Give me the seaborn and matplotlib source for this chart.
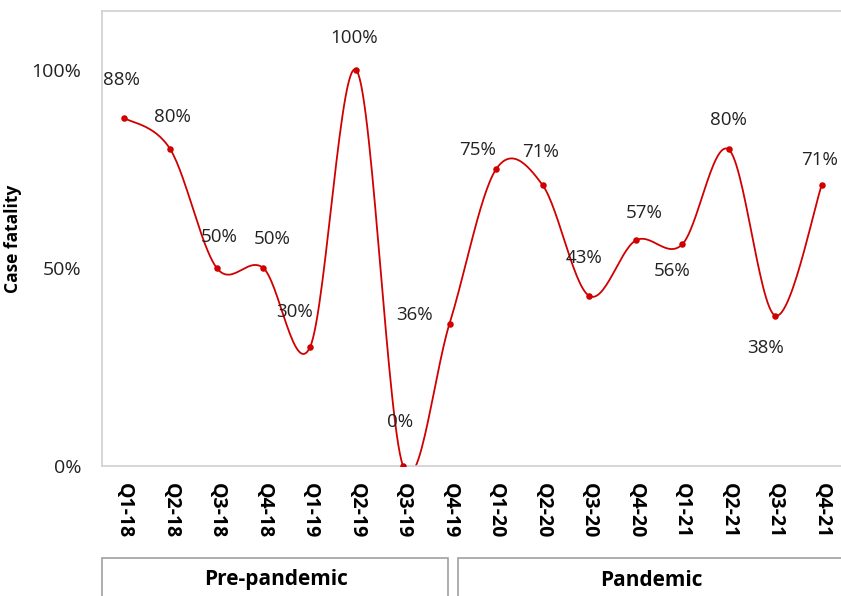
import numpy as np
import matplotlib
matplotlib.use("Agg")
import matplotlib.pyplot as plt
from matplotlib.patches import Rectangle
from matplotlib.ticker import PercentFormatter
import seaborn as sns

# ------------------------------------------------------------------
# DATA
# ------------------------------------------------------------------
quarters = ["Q1-18", "Q2-18", "Q3-18", "Q4-18", "Q1-19", "Q2-19", "Q3-19", "Q4-19",
            "Q1-20", "Q2-20", "Q3-20", "Q4-20", "Q1-21", "Q2-21", "Q3-21", "Q4-21"]
fatality = [0.88, 0.80, 0.50, 0.50, 0.30, 1.00, 0.00, 0.36,
            0.75, 0.71, 0.43, 0.57, 0.56, 0.80, 0.38, 0.71]
period_names = ["Pre-pandemic", "Pandemic"]
period_sizes = [7.5, 8.5]   # quarters covered by each bracket

# offsets of the data labels (pixels, from the marker)
label_offsets = [(-2, 38), (2, 32), (2, 31), (9, 29), (-15, 35), (-2, 32), (-3, 44), (-35, 9),
                 (-19, 19), (-2, 33), (-5, 38), (9, 27), (-10, -27), (0, 29), (-10, -32), (-2, 25)]

RED = "#D00000"
GREY = "#D0D0D0"


def smooth_curve(y, n=30):
    """Kurva halus gaya Excel (Catmull-Rom -> Bezier)."""
    y = np.asarray(y, dtype=float)
    x = np.arange(len(y), dtype=float)
    xs, ys = [], []
    for i in range(len(y) - 1):
        p0 = (x[max(i - 1, 0)], y[max(i - 1, 0)])
        p1 = (x[i], y[i])
        p2 = (x[i + 1], y[i + 1])
        p3 = (x[min(i + 2, len(y) - 1)], y[min(i + 2, len(y) - 1)])
        b1 = (p1[0] + (p2[0] - p0[0]) / 6, p1[1] + (p2[1] - p0[1]) / 6)
        b2 = (p2[0] - (p3[0] - p1[0]) / 6, p2[1] - (p3[1] - p1[1]) / 6)
        t = np.linspace(0, 1, n, endpoint=(i == len(y) - 2))
        for k in range(2):
            c = [p1[k], b1[k], b2[k], p2[k]]
            v = ((1 - t) ** 3 * c[0] + 3 * (1 - t) ** 2 * t * c[1]
                 + 3 * (1 - t) * t ** 2 * c[2] + t ** 3 * c[3])
            (xs if k == 0 else ys).append(v)
    return np.concatenate(xs), np.concatenate(ys)


sns.set_theme(style="white")
plt.rcParams["font.family"] = ["Open Sans", "DejaVu Sans"]
plt.rcParams["text.color"] = "black"
plt.rcParams["axes.labelcolor"] = "black"

fig = plt.figure(figsize=(8.41, 5.96), dpi=100)
ax = fig.add_axes([102 / 841, 130 / 596, 743 / 841, 455 / 596])

xpos = np.arange(len(quarters))
sx, sy = smooth_curve(fatality)
sns.lineplot(x=sx, y=sy, sort=False, estimator=None, color=RED, linewidth=1.3, ax=ax)
sns.scatterplot(x=xpos, y=fatality, color=RED, s=22, edgecolor=RED, linewidth=0, ax=ax, zorder=3)

for i, v in enumerate(fatality):
    dx, dy = label_offsets[i]
    ax.annotate(f"{v:.0%}", (xpos[i], v), xytext=(dx, dy), textcoords="offset pixels",
                ha="center", va="center", fontsize=13.5, color="#222222")

ax.set_xlim(-0.47, len(quarters) - 0.5)
ax.set_ylim(0, 1.15)
ax.set_yticks([0, 0.5, 1.0])
ax.yaxis.set_major_formatter(PercentFormatter(1.0, decimals=0))
ax.set_xticks(xpos)
ax.set_xticklabels(quarters, rotation=-90, fontweight="bold", fontsize=14)
ax.tick_params(axis="y", labelsize=14, pad=9, colors="#222222")
ax.tick_params(axis="x", pad=6, colors="black")
ax.set_ylabel("Case fatality", fontweight="bold", fontsize=12.5, labelpad=4)
ax.yaxis.set_label_coords(-(102 - 22) / 743, 0.5)
for sp in ax.spines.values():
    sp.set_color(GREY)
    sp.set_linewidth(1.2)

# kotak periode di bawah label sumbu x
left = 102
for name, size, gap in zip(period_names, period_sizes, [0, 7]):
    width = size * 46.5
    x0 = left + gap
    fig.patches.append(Rectangle((x0 / 841, -0.05), (width - gap - 3) / 841, (596 - 558) / 596 + 0.05,
                                 transform=fig.transFigure, fill=False, edgecolor="#A0A0A0", linewidth=1.2))
    fig.text((x0 + (width - gap) / 2) / 841, 16 / 596, name, ha="center", va="center",
             fontsize=15, fontweight="bold", color="black")
    left += width

fig.savefig("out.png", dpi=100)
